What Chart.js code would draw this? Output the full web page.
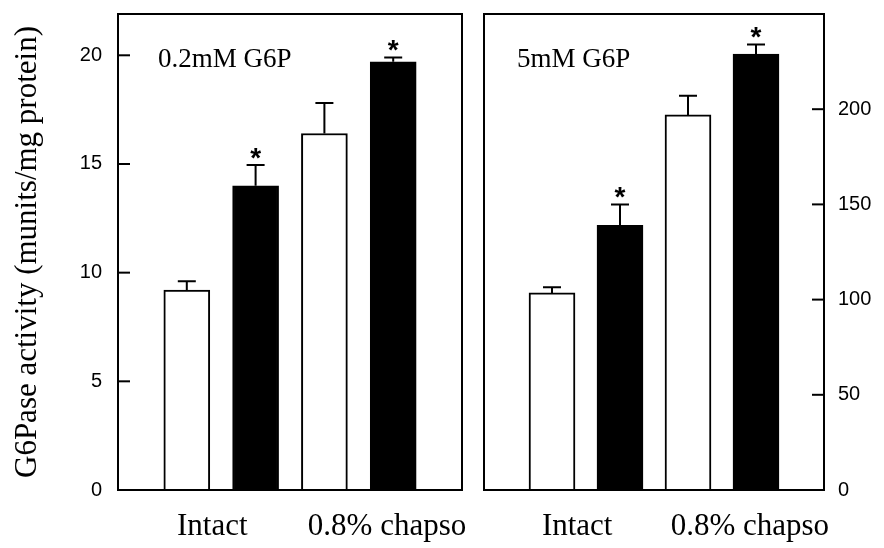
<!DOCTYPE html>
<html>
<head>
<meta charset="utf-8">
<script src="https://cdn.jsdelivr.net/npm/chart.js@4.4.0/dist/chart.umd.min.js"></script>
<style>
  body { margin: 0; background: #fff; }
  #wrap { position: relative; width: 884px; height: 548px; }
  canvas { position: absolute; top: 0; }
  #lowChart { left: 0; }
  #highChart { left: 480px; }
</style>
</head>
<body>
<div id="wrap">
  <canvas id="lowChart" width="480" height="548"></canvas>
  <canvas id="highChart" width="404" height="548"></canvas>
</div>
<script>
// shared
var groups = ['Intact', '0.8% chapso'];
var barColors = ['#ffffff', '#000000', '#ffffff', '#000000'];
var significant = [false, true, false, true];

// left panel, 0.2mM G6P (munits/mg protein)
var lowLabel = '0.2mM G6P';
var lowMeans = [9.2, 14.0, 16.4, 19.7];
var lowErrors = [0.4, 0.95, 1.4, 0.2];
var lowMax = 21.9;
var lowStep = 5;

// right panel, 5mM G6P
var highLabel = '5mM G6P';
var highMeans = [103.5, 139, 197, 229];
var highErrors = [3, 11, 10, 5];
var highMax = 250;
var highStep = 50;

Chart.defaults.color = '#000';
Chart.defaults.font.family = '"Liberation Sans", Arial, sans-serif';

// error bars, stars, frame, inward ticks, panel text
var panelDecor = {
    id: 'panelDecor',
    afterDraw: function (chart, args, opts) {
        var ctx = chart.ctx;
        var a = chart.chartArea;
        var y = chart.scales.y;
        var meta = chart.getDatasetMeta(0);
        var data = chart.data.datasets[0].data;
        ctx.save();
        ctx.strokeStyle = '#000';
        ctx.fillStyle = '#000';
        ctx.lineWidth = 2;

        meta.data.forEach(function (bar, i) {
            var top = y.getPixelForValue(data[i].y + opts.errors[i]);
            ctx.beginPath();
            ctx.moveTo(bar.x, bar.y);
            ctx.lineTo(bar.x, top);
            ctx.moveTo(bar.x - 9, top);
            ctx.lineTo(bar.x + 9, top);
            ctx.stroke();
            if (opts.stars[i]) {
                ctx.font = 'bold 28px "Liberation Sans"';
                ctx.textAlign = 'center';
                ctx.textBaseline = 'alphabetic';
                ctx.fillText('*', bar.x, top + 2);
            }
        });

        ctx.strokeRect(a.left, a.top, a.right - a.left, a.bottom - a.top);

        y.ticks.forEach(function (t) {
            var py = y.getPixelForValue(t.value);
            ctx.beginPath();
            if (opts.side === 'left') {
                ctx.moveTo(a.left, py);
                ctx.lineTo(a.left + 12, py);
            } else {
                ctx.moveTo(a.right - 12, py);
                ctx.lineTo(a.right, py);
            }
            ctx.stroke();
        });

        ctx.font = '27px "Liberation Serif"';
        ctx.textAlign = 'left';
        ctx.textBaseline = 'alphabetic';
        ctx.fillText(opts.label, a.left + opts.labelDx, a.top + 53);
        ctx.restore();
    }
};

function makePanel(canvasId, means, errors, max, step, label, side) {
    var yScale = {
        min: 0,
        max: max,
        position: side,
        grid: { display: false, drawTicks: false },
        border: { display: false },
        ticks: { stepSize: step, includeBounds: false, padding: side === 'left' ? 16 : 14, font: { size: 20 } },
        // no tick at the very top of the frame
        afterBuildTicks: function (s) {
            s.ticks = s.ticks.filter(function (t) { return t.value < max; });
        },
        afterFit: function (s) {
            s.width = side === 'left' ? 118 : 60;
            s.paddingTop = 0;
            s.paddingBottom = 0;
        }
    };
    if (side === 'left') {
        yScale.title = {
            display: true,
            text: 'G6Pase activity (munits/mg protein)',
            font: { family: '"Liberation Serif"', size: 31 },
            padding: { top: 9, bottom: 0 }
        };
    }

    return new Chart(document.getElementById(canvasId), {
        type: 'bar',
        data: {
            datasets: [{
                data: means.map(function (v, i) { return { x: i + 1, y: v }; }),
                backgroundColor: barColors,
                borderColor: '#000',
                borderWidth: 2,
                barThickness: 46
            }]
        },
        options: {
            responsive: false,
            animation: false,
            layout: {
                padding: side === 'left'
                    ? { top: 14, right: 18, bottom: 0, left: 0 }
                    : { top: 14, right: 0, bottom: 0, left: 4 }
            },
            scales: {
                x: {
                    type: 'linear',
                    min: 0,
                    max: 5,
                    offset: false,
                    grid: { display: false, drawTicks: false },
                    border: { display: false },
                    afterBuildTicks: function (s) {
                        s.ticks = [{ value: 1.37 }, { value: 3.91 }];
                    },
                    ticks: {
                        autoSkip: false,
                        maxRotation: 0,
                        padding: 18,
                        font: { family: '"Liberation Serif"', size: 31 },
                        callback: function (v, i) { return groups[i]; }
                    },
                    afterFit: function (s) {
                        s.height = 58;
                        s.paddingLeft = 0;
                        s.paddingRight = 0;
                    }
                },
                y: yScale
            },
            plugins: {
                legend: { display: false },
                tooltip: { enabled: false },
                panelDecor: {
                    errors: errors,
                    stars: significant,
                    label: label,
                    side: side,
                    labelDx: side === 'left' ? 40 : 33
                }
            }
        },
        plugins: [panelDecor]
    });
}

makePanel('lowChart', lowMeans, lowErrors, lowMax, lowStep, lowLabel, 'left');
makePanel('highChart', highMeans, highErrors, highMax, highStep, highLabel, 'right');
</script>
</body>
</html>
